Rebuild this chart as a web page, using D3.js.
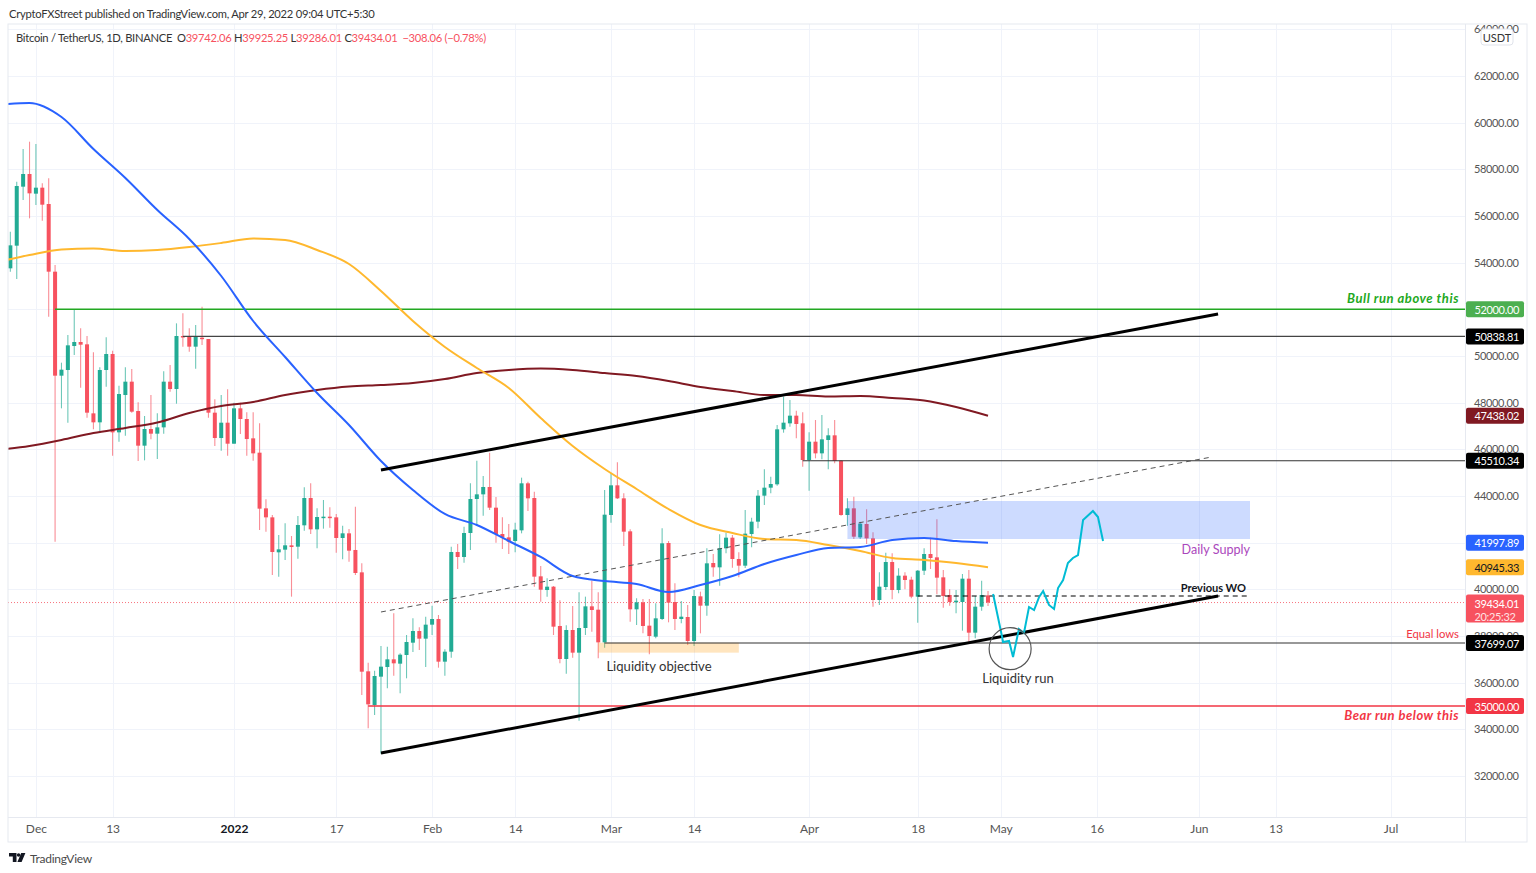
<!DOCTYPE html>
<html>
<head>
<meta charset="utf-8">
<script src="https://cdnjs.cloudflare.com/ajax/libs/d3/7.8.5/d3.min.js"></script>
<style>
  html, body { margin: 0; padding: 0; background: #fff; }
  svg { display: block; }
  text { font-family: Lato, sans-serif; }
</style>
</head>
<body>
<div id="wrapper"></div>
<script>
// candles, Nov 27 2021 to Apr 29 2022
const firstDay = "2021-11-27"
const opens = [
  53757,54728,57257,57800,56957,57214,56514,53614,49157,49400,
  50428,50600,50500,47542,47157,49400,50085,46728,48328,48900,
  47642,46157,46871,46671,46942,48900,48585,50857,50857,50400,
  50785,50728,47571,46485,47142,46242,47757,47300,46471,45857,
  43471,43085,41586,41700,41886,41828,42743,43914,42571,43071,
  43114,43085,42200,42400,41686,40728,36486,35043,36257,36671,
  37000,36814,37186,37714,38214,37886,38486,38728,36900,37328,
  41600,41386,42414,43871,44071,44386,43500,42371,42228,42071,
  42528,44543,43914,40557,39971,40114,38429,37014,38257,37286,
  38343,39271,39128,37728,43186,44457,43900,42486,39143,39443,
  38443,37971,38729,41986,39457,38729,38814,37786,39700,39300,
  41128,40943,41757,42214,41300,41014,42371,42900,44014,44357,
  44500,46857,47114,47443,47114,45543,46328,45828,46400,46600,
  45514,43186,43471,42228,42800,42185,39543,40100,41171,39971,
  40586,40414,39686,40800,41514,41371,40514,39757,39443,39457,
  40457,38143,39257,39742
]
const highs = [
  55328,57471,58871,59185,59085,57400,57614,53900,49714,50900,
  51971,51185,50857,50157,49514,50800,50228,48728,49514,49442,
  48014,47428,48328,47542,49342,49614,51400,51828,51185,51328,
  52114,50728,48142,48328,48571,48000,48000,47585,47585,47114,
  43857,43186,42328,42828,42286,43143,44371,44543,43471,43828,
  43514,43228,42728,42586,43543,41114,36857,36514,37571,37543,
  38971,37257,38043,38757,38371,38828,39300,38900,37428,41828,
  41943,42686,44543,45514,44857,45857,43957,43086,42800,42857,
  44786,44614,44186,40999,40471,40143,39529,38457,39285,39871,
  39686,40371,39871,44257,44971,45443,44114,42571,39614,39586,
  39586,39400,42614,42071,40257,39500,39329,39971,39900,41757,
  41514,42357,42428,42328,41586,43400,43071,44257,45143,44828,
  47043,48257,48114,47657,47585,46728,47257,47471,46900,47257,
  45543,43900,43971,42900,43428,42443,40728,41571,41543,40900,
  40728,40543,40828,41757,42214,43000,40828,39999,39971,40657,
  40828,39714,40371,39925
]
const lows = [
  53614,53300,56685,55900,56471,55800,51685,42042,47757,47142,
  50042,48642,47357,46857,46785,48685,45728,46328,46585,47571,
  45500,45528,46428,45585,46671,48471,47957,50400,50185,49457,
  50471,47357,46142,45942,45728,46242,46657,45728,45514,42543,
  42471,40614,40543,41257,39686,41314,42514,42371,41757,42600,
  42643,41571,41286,41186,40614,35471,34043,34614,32950,35757,
  36300,35543,36186,37314,37400,36671,38043,36643,36300,37071,
  40871,41143,41686,42714,43157,43400,41999,41729,41514,41586,
  42400,43357,40114,39471,39686,38043,36829,36386,37071,34371,
  38043,38186,37043,37500,42857,43871,41857,38614,38471,38114,
  37214,37900,38686,38586,38257,38543,37614,37571,38114,38871,
  40543,40157,41543,40928,40514,40914,41800,42614,43614,44114,
  44443,46714,46971,46471,45257,44228,45614,45571,45143,45400,
  43157,42728,42157,42157,41943,39257,39328,39971,39571,39828,
  40000,39614,38571,40614,40871,39786,39214,39300,38971,38228,
  37757,37900,39086,39286
]
const closes = [
  54742,57285,57800,56971,57214,56485,53614,49157,49414,50457,
  50600,50485,47571,47157,49400,50085,46728,48371,48900,47614,
  46157,46871,46671,46942,48900,48585,50857,50814,50400,50828,
  50728,47571,46485,47142,46242,47757,47300,46442,45828,43457,
  43085,41600,41714,41886,41814,42757,43914,42571,43100,43114,
  43071,42200,42400,41657,40700,36471,35071,36286,36686,37000,
  36829,37200,37743,38214,37886,38486,38728,36900,37328,41600,
  41386,42414,43871,44071,44386,43500,42371,42228,42043,42557,
  44543,43900,40543,39985,40114,38400,37014,38257,37286,38343,
  39271,39114,37728,43200,44457,43900,42471,39143,39443,38429,
  38000,38757,41971,39428,38729,38828,37786,39714,39300,41114,
  40943,41757,42214,41300,41014,42386,42900,44014,44357,44514,
  46857,47143,47443,47086,45543,46328,45828,46428,46600,45500,
  43186,43471,42257,42814,42185,39543,40114,41171,39971,40586,
  40400,39686,40800,41514,41343,40500,39714,39457,39514,40457,
  38143,39257,39757,39434
]

// moving averages, read every fifth day from Nov 25
const maStart = "2021-11-25"
const maBlue = [
  60757,60843,60243,58871,57628,56257,55014,53429,51500,49957,
  48414,47043,45500,44257,43229,42757,42071,41386,40571,40357,
  40229,39886,40186,40571,41086,41471,41771,41814,42114,42200,
  42071,41998
]
const maOrange = [
  54028,54329,54564,54607,54500,54543,54671,54843,55036,54971,
  54543,53943,52786,51500,50386,49486,48629,47343,46143,45157,
  44300,43443,42757,42414,42157,42114,41900,41643,41343,41257,
  41129,40945
]
const maMaroon = [
  45971,46143,46400,46700,46914,47150,47557,47857,48029,48329,
  48543,48693,48757,48843,49014,49271,49400,49464,49400,49271,
  49143,48929,48671,48500,48329,48329,48264,48286,48200,48093,
  47814,47438
]

// projected path: hours after the last candle, price
const projHours = [19,53,56,79,94,116,135,154,173,192,207,229,248,263,282,300,319,338,357,394,413,432]
const projPrices = [39800,37957,37743,37786,37100,38300,38129,39243,39114,39671,39929,39329,39157,40057,40400,41129,41343,41471,42971,43357,43100,42071]

// horizontal levels
const bullLevel = 52000, highLevel = 50838.81, midLevel = 45510.34
const lowLevel = 37699.07, bearLevel = 35000, previousWo = 39714
const lastClose = 39434.01

// axes, 42000 and 52000 sit fully behind their tags
const priceTicks = d3.range(32000, 64001, 2000)
const hiddenPriceLabels = [42000, 52000]
const timeTicks = ["2021-12-01","2021-12-13","2022-01-01","2022-01-17","2022-02-01","2022-02-14","2022-03-01","2022-03-14","2022-04-01","2022-04-18","2022-05-01","2022-05-16","2022-06-01","2022-06-13","2022-07-01"]
const timeLabels = ["Dec","13","2022","17","Feb","14","Mar","14","Apr","18","May","16","Jun","13","Jul"]

const day = s => new Date(s + "T00:00:00Z")

// chart dimensions
const dimensions = {
  width: 1536, height: 873,
  left: 8, top: 24, right: 1465.5, bottom: 817.5, outerRight: 1527, outerBottom: 842
}

const wrapper = d3.select("#wrapper").append("svg")
  .attr("width", dimensions.width)
  .attr("height", dimensions.height)

// create scales
const xScale = d3.scaleUtc()
  .domain([day("2022-01-01"), day("2022-05-01")])
  .range([234, 234 + 120 * 6.39])
const yScale = d3.scaleLinear()
  .domain([62000, 32000])
  .range([76, 776])

const candleDays = d3.utcDay.range(day(firstDay), d3.utcDay.offset(day(firstDay), opens.length))
const maDays = maBlue.map((d, i) => d3.utcDay.offset(day(maStart), i * 5))

wrapper.append("clipPath").attr("id", "pane").append("rect")
  .attr("x", dimensions.left).attr("y", dimensions.top)
  .attr("width", dimensions.right - dimensions.left)
  .attr("height", dimensions.bottom - dimensions.top)

// grid
const grid = wrapper.append("g").attr("stroke", "#f0f3fa")
grid.selectAll(".v").data(timeTicks).enter().append("line")
  .attr("x1", d => Math.round(xScale(day(d))) + 0.5).attr("x2", d => Math.round(xScale(day(d))) + 0.5)
  .attr("y1", dimensions.top).attr("y2", dimensions.bottom)
grid.selectAll(".h").data(priceTicks).enter().append("line")
  .attr("x1", dimensions.left).attr("x2", dimensions.right)
  .attr("y1", d => Math.round(yScale(d)) + 0.5).attr("y2", d => Math.round(yScale(d)) + 0.5)

const bounds = wrapper.append("g").attr("clip-path", "url(#pane)")

// current price line
bounds.append("line")
  .attr("x1", dimensions.left).attr("x2", dimensions.right)
  .attr("y1", yScale(lastClose)).attr("y2", yScale(lastClose))
  .attr("stroke", "#f7525f").attr("stroke-dasharray", "1 2").attr("opacity", 0.8)

// draw candles
const upColor = "#22ab94", downColor = "#f7525f"
const candle = bounds.append("g").selectAll("g").data(candleDays).enter().append("g")
  .attr("transform", d => `translate(${xScale(d)},0)`)
candle.append("line")
  .attr("y1", (d, i) => yScale(highs[i])).attr("y2", (d, i) => yScale(lows[i]))
  .attr("stroke", (d, i) => closes[i] >= opens[i] ? upColor : downColor)
  .attr("stroke-width", 1.1).attr("opacity", 0.65)
candle.append("rect")
  .attr("x", -2).attr("width", 4)
  .attr("y", (d, i) => yScale(Math.max(opens[i], closes[i])))
  .attr("height", (d, i) => Math.max(1.5, Math.abs(yScale(opens[i]) - yScale(closes[i]))))
  .attr("fill", (d, i) => closes[i] >= opens[i] ? upColor : downColor)

// zones
function zone(from, to, top, bottom, fill) {
  bounds.append("rect")
    .attr("x", xScale(day(from))).attr("width", xScale(day(to)) - xScale(day(from)))
    .attr("y", yScale(top)).attr("height", yScale(bottom) - yScale(top))
    .attr("fill", fill)
}
zone("2022-04-07", "2022-06-09", 43786, 42157, "rgba(41,98,255,0.23)")
zone("2022-02-27", "2022-03-21", 37714, 37286, "rgba(255,152,0,0.25)")

// levels
function level(from, value, color, width) {
  bounds.append("line")
    .attr("x1", xScale(day(from))).attr("x2", dimensions.right)
    .attr("y1", yScale(value)).attr("y2", yScale(value))
    .attr("stroke", color).attr("stroke-width", width)
}
level("2021-12-04", bullLevel, "#22a822", 1.5)
level("2021-12-24", highLevel, "#444", 1.3)
level("2022-03-31", midLevel, "#333", 1.2)
level("2022-02-28", lowLevel, "#333", 1.2)
level("2022-01-22", bearLevel, "#f23645", 1.4)

// moving averages
const maLine = d3.line()
  .x((d, i) => xScale(maDays[i]))
  .y(d => yScale(d))
  .curve(d3.curveMonotoneX)
bounds.append("path").attr("d", maLine(maMaroon)).attr("fill", "none").attr("stroke", "#801922").attr("stroke-width", 2)
bounds.append("path").attr("d", maLine(maOrange)).attr("fill", "none").attr("stroke", "#ffb82e").attr("stroke-width", 2)
bounds.append("path").attr("d", maLine(maBlue)).attr("fill", "none").attr("stroke", "#2962ff").attr("stroke-width", 2)

// trend lines
function trend(from, to, p1, p2, color, width, dash) {
  bounds.append("line")
    .attr("x1", xScale(day(from))).attr("x2", xScale(day(to)))
    .attr("y1", yScale(p1)).attr("y2", yScale(p2))
    .attr("stroke", color).attr("stroke-width", width)
    .attr("stroke-dasharray", dash)
}
trend("2022-01-24", "2022-06-04", 45114, 51800, "#000", 3)
trend("2022-01-24", "2022-06-04", 32986, 39714, "#000", 3)
trend("2022-01-24", "2022-06-03", 39029, 45671, "#555", 1, "5 4")
trend("2022-04-18", "2022-06-09", previousWo, previousWo, "#000", 1, "5 4")

// projected path and the circle around the sweep
const lastDay = candleDays[candleDays.length - 1]
const projDates = projHours.map(h => d3.utcHour.offset(lastDay, h))
bounds.append("path")
  .attr("d", d3.line().x((d, i) => xScale(projDates[i])).y(d => yScale(d))(projPrices))
  .attr("fill", "none").attr("stroke", "#00bcd4").attr("stroke-width", 2)
bounds.append("circle")
  .attr("cx", xScale(d3.utcHour.offset(lastDay, 83))).attr("cy", yScale(37456))
  .attr("r", 21).attr("fill", "none").attr("stroke", "#555").attr("stroke-width", 1.2)

// annotations
function note(x, y, label, color, size, anchor, style, weight, spacing) {
  return wrapper.append("text")
    .attr("x", x).attr("y", y).attr("text-anchor", anchor || "start")
    .attr("dominant-baseline", "central")
    .attr("fill", color).attr("font-size", size)
    .attr("font-style", style || "normal")
    .attr("font-weight", weight || "normal")
    .attr("letter-spacing", spacing || 0)
    .text(label)
}
note(1459, 298, "Bull run above this", "#22a822", 13, "end", "italic", "bold", 0.55)
note(1459, 715, "Bear run below this", "#f23645", 13, "end", "italic", "bold", 0.5)
note(1459, 633, "Equal lows", "#f23645", 11.3, "end")
note(1250, 549, "Daily Supply", "#ab47bc", 12.6, "end")
note(1246, 587, "Previous WO", "#131722", 11.1, "end", "normal", "bold", -0.05)
note(659, 666, "Liquidity objective", "#333", 13.1, "middle")
note(1018, 678, "Liquidity run", "#333", 13, "middle")

// price axis
const yAxisGenerator = d3.axisRight().scale(yScale).tickValues(priceTicks).tickSize(0)
  .tickFormat(d => hiddenPriceLabels.includes(d) ? "" : d3.format(".2f")(d))
const yAxis = wrapper.append("g").attr("transform", `translate(${dimensions.right + 5.5},0)`).call(yAxisGenerator)
yAxis.select(".domain").remove()
yAxis.selectAll("text").attr("font-size", 11).attr("letter-spacing", -0.35).attr("fill", "#555").style("font-family", "Lato, sans-serif")

// time axis
const xAxisGenerator = d3.axisBottom().scale(xScale)
  .tickValues(timeTicks.map(day)).tickSize(0)
  .tickFormat((d, i) => timeLabels[i])
const xAxis = wrapper.append("g").attr("transform", `translate(0,${dimensions.bottom + 4})`).call(xAxisGenerator)
xAxis.select(".domain").remove()
xAxis.selectAll("text").attr("font-size", 12).attr("fill", "#555").style("font-family", "Lato, sans-serif")
  .filter((d, i) => timeLabels[i] === "2022").attr("fill", "#131722").attr("font-weight", "bold")

// frame
const frame = wrapper.append("g").attr("stroke", "#e6e9f0").attr("fill", "none")
frame.append("rect").attr("x", dimensions.left).attr("y", dimensions.top)
  .attr("width", dimensions.outerRight - dimensions.left).attr("height", dimensions.outerBottom - dimensions.top)
frame.append("line").attr("x1", dimensions.right).attr("x2", dimensions.right).attr("y1", dimensions.top).attr("y2", dimensions.outerBottom)
frame.append("line").attr("x1", dimensions.left).attr("x2", dimensions.outerRight).attr("y1", dimensions.bottom).attr("y2", dimensions.bottom)

// price tags
function tag(value, fill, color) {
  const g = wrapper.append("g")
  g.append("rect").attr("x", 1466).attr("y", yScale(value) - 8).attr("width", 58).attr("height", 16).attr("rx", 2).attr("fill", fill)
  g.append("text").attr("x", 1474.5).attr("y", yScale(value)).attr("dominant-baseline", "central")
    .attr("font-size", 11).attr("letter-spacing", -0.35).attr("fill", color).text(d3.format(".2f")(value))
}
tag(bullLevel, "#4caf50", "#fff")
tag(highLevel, "#000", "#fff")
tag(maMaroon[maMaroon.length - 1] + 0.02, "#801922", "#fff")
tag(midLevel, "#000", "#fff")
tag(maBlue[maBlue.length - 1] - 0.11, "#2962ff", "#fff")
tag(maOrange[maOrange.length - 1] + 0.33, "#ffb82e", "#131722")
tag(lowLevel, "#000", "#fff")
tag(bearLevel, "#f23645", "#fff")

// current price tag with the countdown
const lastTag = wrapper.append("g")
lastTag.append("rect").attr("x", 1466).attr("y", yScale(lastClose) - 8).attr("width", 58).attr("height", 28).attr("rx", 2).attr("fill", "#f7525f")
lastTag.append("text").attr("x", 1474.5).attr("y", yScale(lastClose) + 0.5).attr("dominant-baseline", "central").attr("font-size", 11).attr("letter-spacing", -0.35).attr("fill", "#fff").text(d3.format(".2f")(lastClose))
lastTag.append("text").attr("x", 1474.5).attr("y", yScale(lastClose) + 14).attr("dominant-baseline", "central").attr("font-size", 11).attr("letter-spacing", -0.35).attr("fill", "#ffe3e5").text("20:25:32")

// currency button
wrapper.append("rect").attr("x", 1481).attr("y", 29).attr("width", 32).attr("height", 16).attr("rx", 3).attr("fill", "#fff").attr("stroke", "#e0e3eb")
note(1497, 37, "USDT", "#333", 11, "middle")

// header and legend
note(9, 13, "CryptoFXStreet published on TradingView.com, Apr 29, 2022 09:04 UTC+5:30", "#333", 11.2, "start", "normal", "normal", -0.25)
const legend = wrapper.append("text").attr("x", 16).attr("y", 37).attr("dominant-baseline", "central").attr("font-size", 11.2).attr("letter-spacing", -0.28)
legend.append("tspan").attr("fill", "#333").text("Bitcoin / TetherUS, 1D, BINANCE")
const legendParts = [["O", "39742.06"], ["H", "39925.25"], ["L", "39286.01"], ["C", "39434.01"]]
legendParts.forEach((d, i) => {
  legend.append("tspan").attr("fill", "#333").attr("dx", i === 0 ? 5 : 2.5).text(d[0])
  legend.append("tspan").attr("fill", "#f7525f").text(d[1])
})
legend.append("tspan").attr("fill", "#f7525f").attr("dx", 5).text("\u2212308.06 (\u22120.78%)")

// footer logo
wrapper.append("path").attr("d", "M9 853h7.5v9h-3.7v-5.4H9z M21.2 853H25.4l-3.8 9h-4.2z").attr("fill", "#131722")
wrapper.append("circle").attr("cx", 18.6).attr("cy", 855).attr("r", 1.8).attr("fill", "#131722")
note(30, 858, "TradingView", "#4a4a4a", 12, "start", "normal", "normal", -0.25)
</script>
</body>
</html>
